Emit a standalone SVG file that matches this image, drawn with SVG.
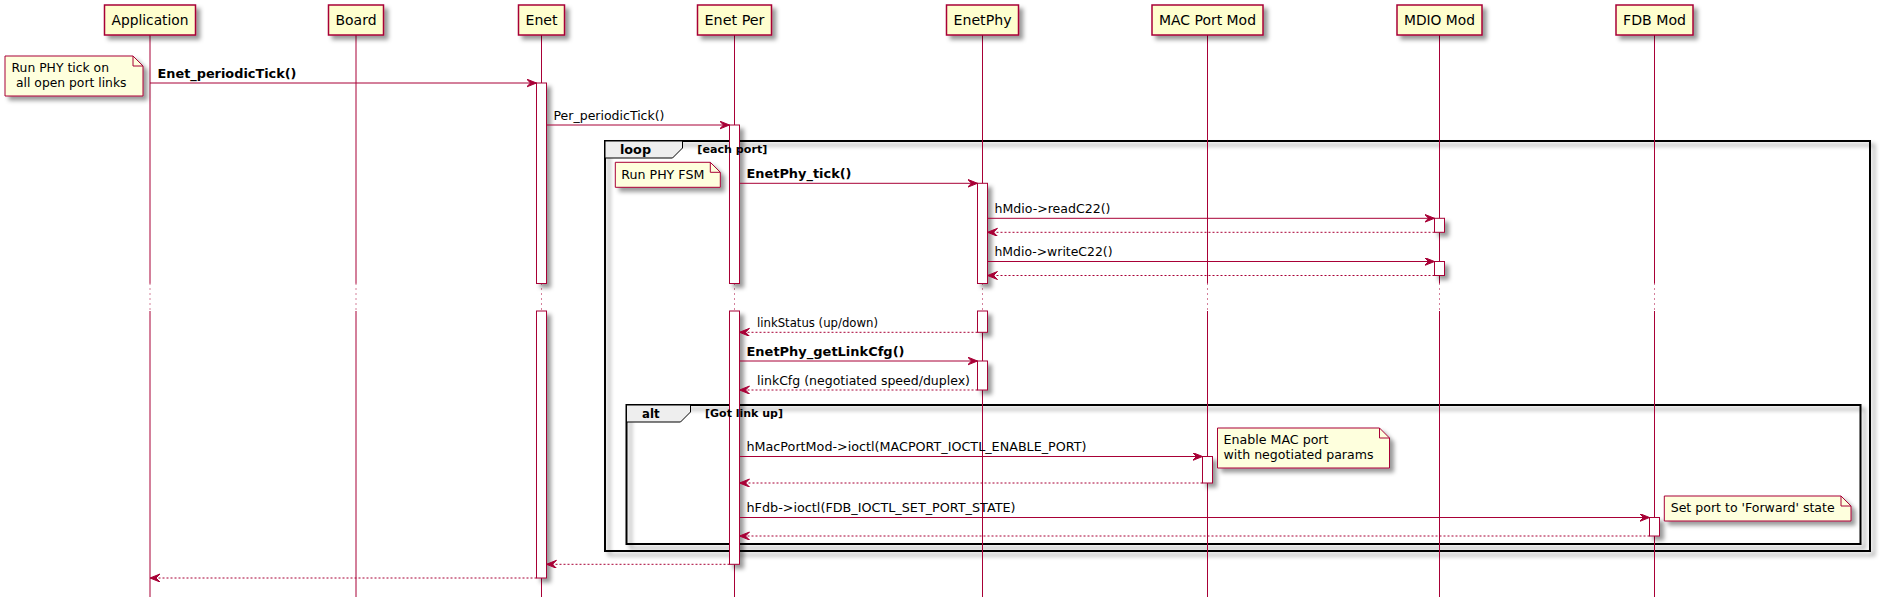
<svg xmlns="http://www.w3.org/2000/svg" width="1883" height="602" viewBox="0 0 1883 602">
<defs>
<filter id="sh" x="-1" y="-1" width="300%" height="300%">
<feGaussianBlur in="SourceAlpha" stdDeviation="2" result="b1"/>
<feColorMatrix in="b1" type="matrix" values="0 0 0 0 0  0 0 0 0 0  0 0 0 0 0  0 0 0 0.4 0" result="b2"/>
<feOffset in="b2" dx="4" dy="4" result="b3"/>
<feBlend in="SourceGraphic" in2="b3" mode="normal"/>
</filter>
<marker id="ah" markerUnits="userSpaceOnUse" markerWidth="12" markerHeight="10" refX="10" refY="4" orient="auto">
<path d="M0,0 L10,4 L0,8 L4,4 Z" fill="#A80036" stroke="#A80036" stroke-width="1"/>
</marker>
</defs>
<style>
.pbox{fill:#FEFECE;stroke:#A80036;stroke-width:1.5}
.ptxt{font-family:"DejaVu Sans",sans-serif;font-size:14px;fill:#000000}
.life{stroke:#A80036;stroke-width:1;fill:none}
.delay{stroke:#A80036;stroke-width:1;stroke-dasharray:1,4;fill:none}
.act{fill:#FFFFFF;stroke:#A80036;stroke-width:1}
.msg{stroke:#A80036;stroke-width:1;fill:none;marker-end:url(#ah)}
.ret{stroke-dasharray:2,2}
.mt{font-family:"DejaVu Sans",sans-serif;font-size:13px;fill:#000000}
.b{font-weight:bold}
.note{fill:#FEFFDD;stroke:#A80036;stroke-width:1}
.fold{fill:none;stroke:#A80036;stroke-width:1}
.frame{fill:none;stroke:#000000;stroke-width:2}
.tab{fill:#EEEEEE;stroke:#000000;stroke-width:1}
.gt{font-family:"DejaVu Sans",sans-serif;font-size:11px;font-weight:bold;fill:#000000}
</style>
<rect x="0" y="0" width="1883" height="602" fill="#FFFFFF"/>

<g id="frames">
<rect id="loop-frame" class="frame" filter="url(#sh)" x="605" y="141" width="1265" height="410"/>
<rect id="alt-frame" class="frame" filter="url(#sh)" x="626.5" y="405" width="1234" height="139"/>
</g>

<g id="p-application">
<path class="life" d="M150,35 V283.5 M150,311 V597"/>
<path class="delay" d="M150,283.5 V311"/>
<rect class="pbox" filter="url(#sh)" x="104.5" y="5" width="91" height="30"/>
<text class="ptxt" x="150" y="24.5" text-anchor="middle" textLength="77" lengthAdjust="spacingAndGlyphs">Application</text>
</g>
<g id="p-board">
<path class="life" d="M356,35 V283.5 M356,311 V597"/>
<path class="delay" d="M356,283.5 V311"/>
<rect class="pbox" filter="url(#sh)" x="328.5" y="5" width="55" height="30"/>
<text class="ptxt" x="356" y="24.5" text-anchor="middle" textLength="41" lengthAdjust="spacingAndGlyphs">Board</text>
</g>
<g id="p-enet">
<path class="life" d="M541.5,35 V283.5 M541.5,311 V597"/>
<path class="delay" d="M541.5,283.5 V311"/>
<rect class="pbox" filter="url(#sh)" x="518.5" y="5" width="46" height="30"/>
<text class="ptxt" x="541.5" y="24.5" text-anchor="middle" textLength="32" lengthAdjust="spacingAndGlyphs">Enet</text>
<rect class="act" filter="url(#sh)" x="536.5" y="83" width="10" height="200.5"/>
<rect class="act" filter="url(#sh)" x="536.5" y="311" width="10" height="267"/>
</g>
<g id="p-enetper">
<path class="life" d="M734.5,35 V283.5 M734.5,311 V597"/>
<path class="delay" d="M734.5,283.5 V311"/>
<rect class="pbox" filter="url(#sh)" x="697.5" y="5" width="74" height="30"/>
<text class="ptxt" x="734.5" y="24.5" text-anchor="middle" textLength="60" lengthAdjust="spacingAndGlyphs">Enet Per</text>
<rect class="act" filter="url(#sh)" x="729.5" y="125" width="10" height="158.5"/>
<rect class="act" filter="url(#sh)" x="729.5" y="311" width="10" height="253.3"/>
</g>
<g id="p-enetphy">
<path class="life" d="M982.5,35 V283.5 M982.5,311 V597"/>
<path class="delay" d="M982.5,283.5 V311"/>
<rect class="pbox" filter="url(#sh)" x="946.5" y="5" width="72" height="30"/>
<text class="ptxt" x="982.5" y="24.5" text-anchor="middle" textLength="58" lengthAdjust="spacingAndGlyphs">EnetPhy</text>
<rect class="act" filter="url(#sh)" x="977.5" y="183.3" width="10" height="100.2"/>
<rect class="act" filter="url(#sh)" x="977.5" y="311" width="10" height="21.3"/>
<rect class="act" filter="url(#sh)" x="977.5" y="361" width="10" height="29"/>
</g>
<g id="p-macportmod">
<path class="life" d="M1207.5,35 V283.5 M1207.5,311 V597"/>
<path class="delay" d="M1207.5,283.5 V311"/>
<rect class="pbox" filter="url(#sh)" x="1152" y="5" width="111" height="30"/>
<text class="ptxt" x="1207.5" y="24.5" text-anchor="middle" textLength="97" lengthAdjust="spacingAndGlyphs">MAC Port Mod</text>
<rect class="act" filter="url(#sh)" x="1202.5" y="456.5" width="10" height="26.5"/>
</g>
<g id="p-mdiomod">
<path class="life" d="M1439.5,35 V283.5 M1439.5,311 V597"/>
<path class="delay" d="M1439.5,283.5 V311"/>
<rect class="pbox" filter="url(#sh)" x="1397" y="5" width="85" height="30"/>
<text class="ptxt" x="1439.5" y="24.5" text-anchor="middle" textLength="71" lengthAdjust="spacingAndGlyphs">MDIO Mod</text>
<rect class="act" filter="url(#sh)" x="1434.5" y="218.3" width="10" height="14"/>
<rect class="act" filter="url(#sh)" x="1434.5" y="261.5" width="10" height="14"/>
</g>
<g id="p-fdbmod">
<path class="life" d="M1654.5,35 V283.5 M1654.5,311 V597"/>
<path class="delay" d="M1654.5,283.5 V311"/>
<rect class="pbox" filter="url(#sh)" x="1616" y="5" width="77" height="30"/>
<text class="ptxt" x="1654.5" y="24.5" text-anchor="middle" textLength="63" lengthAdjust="spacingAndGlyphs">FDB Mod</text>
<rect class="act" filter="url(#sh)" x="1649.5" y="517.5" width="10" height="18.5"/>
</g>

<g id="frame-labels">
<g id="loop">
<path class="tab" d="M605,141 H682.5 V148 L672.5,158 H605 Z"/>
<text class="mt b" x="620" y="153.5" textLength="31" lengthAdjust="spacingAndGlyphs">loop</text>
<text class="gt" x="697.3" y="152.7" textLength="70" lengthAdjust="spacingAndGlyphs">[each port]</text>
</g>
<g id="alt">
<path class="tab" d="M626.5,405 H690.5 V412 L680.5,422 H626.5 Z"/>
<text class="mt b" x="642" y="418" textLength="17.5" lengthAdjust="spacingAndGlyphs">alt</text>
<text class="gt" x="705" y="417" textLength="78" lengthAdjust="spacingAndGlyphs">[Got link up]</text>
</g>
</g>

<g id="connectors">
<path class="msg" d="M150,83 H536.5"/>
<text class="mt b" x="157.5" y="77.5" textLength="139" lengthAdjust="spacingAndGlyphs">Enet_periodicTick()</text>
<path class="msg" d="M546.5,125 H729.5"/>
<text class="mt" x="553.5" y="119.5" textLength="111" lengthAdjust="spacingAndGlyphs">Per_periodicTick()</text>
<path class="msg" d="M739.5,183.3 H977.5"/>
<text class="mt b" x="746.5" y="178" textLength="105" lengthAdjust="spacingAndGlyphs">EnetPhy_tick()</text>
<path class="msg" d="M987.5,218.3 H1434.5"/>
<text class="mt" x="994.5" y="212.8" textLength="116" lengthAdjust="spacingAndGlyphs">hMdio-&gt;readC22()</text>
<path class="msg ret" d="M1434.5,232.3 H987.5"/>
<path class="msg" d="M987.5,261.5 H1434.5"/>
<text class="mt" x="994.5" y="256" textLength="118" lengthAdjust="spacingAndGlyphs">hMdio-&gt;writeC22()</text>
<path class="msg ret" d="M1434.5,275.5 H987.5"/>
<path class="msg ret" d="M977.5,332.3 H739.5"/>
<text class="mt" x="757" y="327" textLength="121" lengthAdjust="spacingAndGlyphs">linkStatus (up/down)</text>
<path class="msg" d="M739.5,361 H977.5"/>
<text class="mt b" x="746.5" y="355.5" textLength="158" lengthAdjust="spacingAndGlyphs">EnetPhy_getLinkCfg()</text>
<path class="msg ret" d="M977.5,390 H739.5"/>
<text class="mt" x="757" y="384.5" textLength="213" lengthAdjust="spacingAndGlyphs">linkCfg (negotiated speed/duplex)</text>
<path class="msg" d="M739.5,456.5 H1202.5"/>
<text class="mt" x="746.5" y="451" textLength="340" lengthAdjust="spacingAndGlyphs">hMacPortMod-&gt;ioctl(MACPORT_IOCTL_ENABLE_PORT)</text>
<path class="msg ret" d="M1202.5,483 H739.5"/>
<path class="msg" d="M739.5,517.5 H1649.5"/>
<text class="mt" x="746.5" y="511.5" textLength="269" lengthAdjust="spacingAndGlyphs">hFdb-&gt;ioctl(FDB_IOCTL_SET_PORT_STATE)</text>
<path class="msg ret" d="M1649.5,536 H739.5"/>
<path class="msg ret" d="M729.5,564.3 H546.5"/>
<path class="msg ret" d="M536.5,578 H150"/>
</g>

<g id="note-tick">
<path class="note" filter="url(#sh)" d="M5,56 H133 L143,66 V96 H5 Z"/>
<path class="fold" d="M133,56 V66 H143"/>
<text class="mt" x="11.5" y="71.5" textLength="97.5" lengthAdjust="spacingAndGlyphs">Run PHY tick on</text>
<text class="mt" x="16" y="86.5" textLength="110.5" lengthAdjust="spacingAndGlyphs">all open port links</text>
</g>
<g id="note-fsm">
<path class="note" filter="url(#sh)" d="M615.3,162.3 H710.3 L720.3,172.3 V187.3 H615.3 Z"/>
<path class="fold" d="M710.3,162.3 V172.3 H720.3"/>
<text class="mt" x="621.3" y="179.3" textLength="83" lengthAdjust="spacingAndGlyphs">Run PHY FSM</text>
</g>
<g id="note-mac">
<path class="note" filter="url(#sh)" d="M1217.5,428 H1379.5 L1389.5,438 V468 H1217.5 Z"/>
<path class="fold" d="M1379.5,428 V438 H1389.5"/>
<text class="mt" x="1223.5" y="444.3" textLength="105" lengthAdjust="spacingAndGlyphs">Enable MAC port</text>
<text class="mt" x="1223.5" y="459.3" textLength="150" lengthAdjust="spacingAndGlyphs">with negotiated params</text>
</g>
<g id="note-fdb">
<path class="note" filter="url(#sh)" d="M1664.3,496 H1841 L1851,506 V521 H1664.3 Z"/>
<path class="fold" d="M1841,496 V506 H1851"/>
<text class="mt" x="1670.7" y="512.3" textLength="164" lengthAdjust="spacingAndGlyphs">Set port to 'Forward' state</text>
</g>
</svg>
